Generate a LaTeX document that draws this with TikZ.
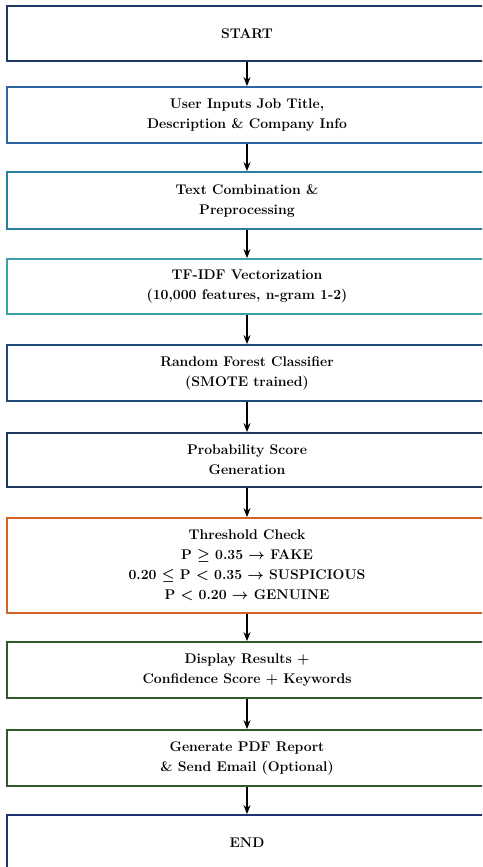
\documentclass[tikz,border=0pt]{standalone}
\usepackage{tikz}
\usetikzlibrary{arrows.meta}
\definecolor{startblue}{RGB}{31,56,100}
\definecolor{userblue}{RGB}{46,100,160}
\definecolor{textblue}{RGB}{40,125,160}
\definecolor{tfidfteal}{RGB}{60,160,170}
\definecolor{forestblue}{RGB}{30,75,120}
\definecolor{probnavy}{RGB}{30,55,90}
\definecolor{threshorange}{RGB}{210,100,40}
\definecolor{outgreen}{RGB}{45,90,40}
\definecolor{endblue}{RGB}{30,50,110}

\begin{document}
\begin{tikzpicture}[x=1pt,y=-1pt,
    box/.style={draw,line width=1.8pt,fill=white,minimum width=480pt,inner sep=0pt,
        align=center,font=\fontsize{14}{20}\selectfont\bfseries\boldmath},
    flow/.style={-{Stealth[length=9pt,width=7pt]},line width=1.2pt}]
    \useasboundingbox (0,0) rectangle (482,867);
    \clip (0,0) rectangle (482,867);

    % Start
    \node[box,draw=startblue,minimum height=55pt] (start) at (247,33.5) {START};

    % Input and preprocessing
    \node[box,draw=userblue,minimum height=56pt] (input) at (247,115)
        {User Inputs Job Title,\\Description \& Company Info};
    \node[box,draw=textblue,minimum height=57pt] (prep) at (247,200.5)
        {Text Combination \&\\Preprocessing};
    \node[box,draw=tfidfteal,minimum height=55pt] (tfidf) at (247,286.5)
        {TF-IDF Vectorization\\(10,000 features, n-gram 1-2)};

    % Model
    \node[box,draw=forestblue,minimum height=56pt] (forest) at (247,373)
        {Random Forest Classifier\\(SMOTE trained)};
    \node[box,draw=probnavy,minimum height=54pt] (prob) at (247,460)
        {Probability Score\\Generation};

    % Threshold
    \node[box,draw=threshorange,minimum height=95pt] (thresh) at (247,565.5)
        {Threshold Check\\P $\geq$ 0.35 $\rightarrow$ FAKE\\
         0.20 $\leq$ P $<$ 0.35 $\rightarrow$ SUSPICIOUS\\P $<$ 0.20 $\rightarrow$ GENUINE};

    % Output
    \node[box,draw=outgreen,minimum height=56pt] (display) at (247,670)
        {Display Results +\\Confidence Score + Keywords};
    \node[box,draw=outgreen,minimum height=56pt] (report) at (247,758)
        {Generate PDF Report\\\& Send Email (Optional)};

    % End
    \node[box,draw=endblue,minimum height=56pt] (end) at (247,843) {END};

    % Arrows
    \draw[flow] (start.south) -- (input.north);
    \draw[flow] (input.south) -- (prep.north);
    \draw[flow] (prep.south) -- (tfidf.north);
    \draw[flow] (tfidf.south) -- (forest.north);
    \draw[flow] (forest.south) -- (prob.north);
    \draw[flow] (prob.south) -- (thresh.north);
    \draw[flow] (thresh.south) -- (display.north);
    \draw[flow] (display.south) -- (report.north);
    \draw[flow] (report.south) -- (end.north);
\end{tikzpicture}
\end{document}
